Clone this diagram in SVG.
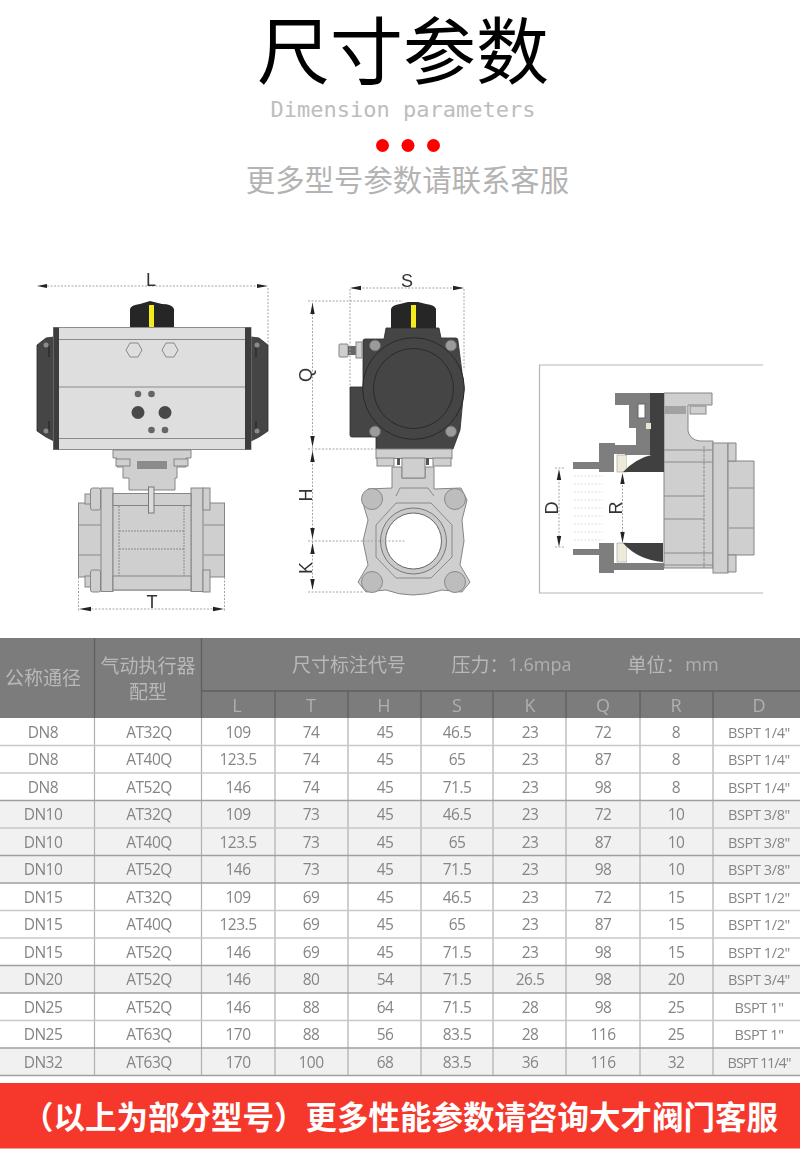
<svg xmlns="http://www.w3.org/2000/svg" width="800" height="1151" viewBox="0 0 800 1151">
<style>
text{font-family:"Liberation Sans","Noto Sans CJK SC",sans-serif}
.c{text-anchor:middle}
.t{font-family:"Open Sans","Noto Sans CJK SC",sans-serif;font-size:15.500px;fill:#858585;text-anchor:middle;letter-spacing:-.5px}
.b{font-size:14.500px;letter-spacing:-.4px}
.h{font-size:19px;fill:#b8b8b8;text-anchor:middle}
.s{font-family:"Open Sans",sans-serif;font-size:18px;fill:#b0b0b0;text-anchor:middle}
.d{font-size:18px;fill:#333;text-anchor:middle}
.dim{stroke:#a5a5a5;stroke-width:1;stroke-dasharray:2 1.5;fill:none}
.dk{fill:#454545;stroke:#2c2c2c;stroke-width:.8}
.kn{fill:#262626}
.ye{fill:#f4ea1e}
.al{fill:#dedede;stroke:#8c8c8c;stroke-width:1}
.bd{fill:#cfcfcf;stroke:#858585;stroke-width:1}
.mg{fill:#7e7e7e}
.ln{stroke:#8a8a8a;stroke-width:1;fill:none}
.ar{fill:#222}
.hl{stroke:#5f5f5f;stroke-width:1.3;fill:none}
.z{fill:#f1f1f1}
</style>
<defs>
<filter id="b" x="-5%" y="-5%" width="110%" height="110%"><feGaussianBlur stdDeviation=".5"/></filter>
<filter id="s" x="-2%" y="-2%" width="104%" height="104%"><feGaussianBlur stdDeviation=".35"/></filter>
</defs>
<rect width="800" height="1151" fill="#fff"/>
<g id="title">
<text class="c" x="403" y="78" font-size="73" font-weight="400" fill="#000">尺寸参数</text>
<text class="c" x="403" y="117" font-size="22" style="font-family:'DejaVu Sans Mono',monospace" fill="#bdbdbd">Dimension parameters</text>
<circle cx="382.500" cy="145.500" r="6.500" fill="#f00"/><circle cx="408" cy="145.500" r="6.500" fill="#f00"/><circle cx="433.500" cy="145.500" r="6.500" fill="#f00"/>
<text class="c" x="407.500" y="191" font-size="29.400" fill="#b3b3b3">更多型号参数请联系客服</text>
</g>
<g id="front-view" filter="url(#b)">
<path class="kn" d="M130 328V309Q131 305 140 304L150 301L162 304Q172 304 174 309V328Z"/>
<rect class="ye" x="149" y="305" width="5" height="23"/>
<path class="dk" d="M54 337L46 338L37 345V431L46 437L54 441ZM251 337L259 338L268 345V431L259 437L251 441Z"/>
<path d="M49 346V357M49 421V432M256 346V357M256 421V432" stroke="#222" fill="none"/>
<g fill="#8b8b8b"><circle cx="46" cy="345" r="2.500"/><circle cx="46" cy="431" r="2.500"/><circle cx="257" cy="345" r="2.500"/><circle cx="257" cy="431" r="2.500"/></g>
<rect class="al" x="53.500" y="327.500" width="197.500" height="122"/>
<rect x="53.500" y="327.500" width="5.500" height="122" fill="#3c3c3c"/><rect x="245" y="327.500" width="6" height="122" fill="#3c3c3c"/>
<path class="ln" d="M59 339.500H245M59 387H245M59 438.500H245"/>
<path class="ln" fill="#d6d6d6" d="M126 350L130 343H138L142 350L138 357H130ZM162 350L166 343H174L178 350L174 357H166Z"/>
<g fill="#666"><circle cx="138" cy="394" r="3.300"/><circle cx="151.500" cy="394" r="3.300"/><circle cx="151.500" cy="430" r="3.300"/><circle cx="165" cy="430" r="3.300"/></g>
<circle cx="138" cy="412.500" r="6.500" fill="#4a4a4a"/><circle cx="165" cy="412.500" r="6.500" fill="#4a4a4a"/>
<path class="bd" d="M113 450H191V458H186V467H177V478H175V490H129V478H123V467H117V458H113Z"/>
<rect x="137" y="461" width="30" height="8" fill="#8b8b8b"/>
<rect class="bd" x="116" y="459" width="14" height="7"/><rect class="bd" x="174" y="459" width="14" height="7"/>
<rect class="bd" x="78.500" y="503" width="146" height="74"/>
<path class="ln" d="M79 525H101M79 555H101M204 525H224M204 555H224"/>
<rect class="bd" x="101" y="488" width="12" height="103.500"/><rect class="bd" x="191" y="488" width="12" height="103.500"/>
<rect class="bd" x="113" y="494" width="78" height="96"/>
<path class="ln" stroke-dasharray="2 1" d="M119 506V576M184 506V576M119 531H184M119 549H184"/>
<rect class="bd" x="113" y="493.500" width="78" height="12"/><rect class="bd" x="113" y="576" width="78" height="14"/>
<rect x="148.500" y="487" width="5.500" height="26" fill="#dcdcdc" stroke="#777"/>
<rect class="bd" x="90.500" y="488" width="10" height="22" rx="2"/><rect class="bd" x="90.500" y="570" width="10" height="22" rx="2"/>
<rect class="bd" x="203" y="488" width="7" height="22"/><rect class="bd" x="203" y="570" width="7" height="22"/>
<rect class="bd" x="85" y="494" width="5.500" height="10"/><rect class="bd" x="85" y="576" width="5.500" height="11"/>
<path class="dim" d="M268 288V345M78.500 577V612M224.500 577V612M47 286H258M88 609H215"/>
<path class="ar" d="M37 286L47 284V288ZM268 286L257 284V288ZM79 609L91 606.800V611.200ZM224 609L213 606.800V611.200Z"/>
</g>
<g id="side-view" filter="url(#b)">
<path class="kn" d="M391 328V309Q392 305 400 304L408 302H418L426 304Q435 305 436 309V328Z"/>
<rect class="ye" x="411" y="305" width="5" height="23"/>
<path class="dk" d="M386 328H439L441 338H456Q458 338 458 341L464 388L460 430L453 449H376V437H352Q350 437 350 435V387H363V341Q363 339 365 339H384Z"/>
<circle cx="413.500" cy="388.500" r="50.800" fill="#454545" stroke="#2a2a2a"/><circle cx="413.500" cy="388.500" r="40" fill="#454545" stroke="#2a2a2a"/>
<g fill="#9b9b9b" stroke="#666"><circle cx="375" cy="345.500" r="5.500"/><circle cx="451" cy="345.500" r="5.500"/><circle cx="375" cy="431.500" r="5.500"/><circle cx="451" cy="431.500" r="5.500"/></g>
<rect class="bd" x="339" y="344" width="9" height="13" rx="1"/><rect x="348" y="346" width="8" height="9" fill="#666"/><rect class="bd" x="356" y="342" width="6" height="16"/>
<rect class="bd" x="376" y="449" width="76" height="9.500"/>
<rect class="bd" x="377" y="458" width="17" height="8"/><rect class="bd" x="433" y="458" width="18" height="8"/>
<path d="M397 458h3v7h-3zM426 458h3v7h-3z" fill="#555"/>
<path class="bd" d="M392 467H402V478H425V467H434V489L461 488L467 500L462 520L464 541L460 565L470 582L462 592L442 590Q412 600 386 590L366 592L358 582L368 565L363 541L368 520L362 500L368 489L392 488Z"/>
<rect class="bd" x="402" y="458" width="23" height="20"/>
<path class="ln" d="M396 496L400 488H428L434 496"/>
<g fill="#bdbdbd" stroke="#8a8a8a"><circle cx="372" cy="499" r="10.500"/><circle cx="455" cy="499" r="10.500"/><circle cx="372" cy="582" r="10.500"/><circle cx="455" cy="582" r="10.500"/></g>
<path class="ln" d="M376 525L396 503H431L452 525V557L431 578H396L376 557Z" fill="#c4c4c4"/>
<circle cx="413.500" cy="541" r="33" fill="#c9c9c9" stroke="#777"/><circle cx="413.500" cy="541" r="28" fill="#fff" stroke="#666"/>
<path class="dim" d="M350 289V387M464 289V370M308 301H403M308 449H376M308 541H405M308 592H364M352 288H462M312.500 303V590"/>
<path class="ar" d="M350 288L361 285.800V290.200ZM464 288L453 285.800V290.200ZM312.500 303L310.300 314H314.700ZM312.500 447L310.300 436H314.700ZM312.500 451L310.300 462H314.700ZM312.500 539L310.300 528H314.700ZM312.500 543L310.300 554H314.700ZM312.500 590L310.300 579H314.700Z"/>
</g>
<g id="section-view" filter="url(#b)">
<path d="M763 365H539.500V593H763" fill="none" stroke="#b5b5b5" stroke-width="1.200"/>
<path class="bd" d="M664 393H712V405H688V431Q690 440 700 441H713V568H664Z"/>
<rect class="bd" x="713" y="443" width="15" height="130"/>
<path class="bd" d="M728 461H754V555H728Z"/><path class="bd" d="M728 443h8v18h-8zM728 555h8v17h-8z"/>
<path class="ln" d="M664 496H704M664 519H704M729 488H754M729 528H754M664 450H713M664 462H713M664 553H713M664 565H713"/>
<path class="ln" stroke-dasharray="3 1" d="M704 446V568"/>
<rect x="664" y="406" width="22" height="8" fill="#a2a2a2"/><rect class="bd" x="690" y="406" width="16" height="8"/>
<path class="mg" d="M615 393H650V472H625V454H614V472H599V443H615V445H636V428H629V405H615Z"/>
<rect x="650" y="393" width="14" height="79" fill="#3f3f3f"/>
<rect x="646" y="423" width="5" height="6" fill="#e8e5d0"/><rect x="638" y="404" width="7" height="14" fill="#fff" stroke="#666"/>
<path class="mg" d="M599 543H614V563H664V570H614V573H599Z"/>
<path class="mg" d="M573 462H600V469H573ZM573 549H600V555H573Z"/>
<path d="M574 468.500H599M574 549.500H599" stroke="#777" stroke-dasharray="1.500 1.500" fill="none"/>
<rect x="617" y="455" width="10" height="17" fill="#eeeada" stroke="#888" stroke-width=".5"/>
<rect x="617" y="543" width="10" height="19" fill="#eeeada" stroke="#888" stroke-width=".5"/>
<path fill="#fff" d="M627 455H655Q638 458 627 470ZM627 547Q640 560 663 563H627Z"/>
<path fill="#3f3f3f" d="M623 472Q636 458 655 454L663 462V472ZM623 543H663V562Q638 560 623 543Z"/>
<path d="M574 476H603M574 484H603M574 492H603M574 500H603M574 508H603M574 516H603M574 524H603M574 532H603M574 540H603" stroke="#dcdcdc" stroke-dasharray="2 1.500" fill="none"/>
<path class="dim" d="M555 468H564M555 547H564M559 475V540M622.500 478V538"/>
<path class="ar" d="M559 469L556.800 480H561.200ZM559 547L556.800 536H561.200ZM622.500 473L620.300 484H624.700ZM622.500 543L620.300 532H624.700Z"/>
</g>
<g id="labels" filter="url(#s)">
<text class="d" x="151" y="286">L</text>
<text class="d" x="152" y="608">T</text>
<text class="d" x="407" y="287">S</text>
<text class="d" transform="translate(311.500 375) rotate(-90)">Q</text>
<text class="d" transform="translate(311.500 495) rotate(-90)">H</text>
<text class="d" transform="translate(311.500 568) rotate(-90)">K</text>
<text class="d" transform="translate(558 508) rotate(-90)">D</text>
<text class="d" transform="translate(622 508) rotate(-90)">R</text>
</g>
<g id="table" filter="url(#s)">
<rect x="0" y="638" width="800" height="80" fill="#7c7c7c"/>
<rect class="z" x="0" y="800.500" width="800" height="82.500"/>
<rect class="z" x="0" y="965.500" width="800" height="27.500"/>
<rect class="z" x="0" y="1048" width="800" height="27.500"/>
<path class="hl" d="M94.500 638V718M201.500 638V718M201.500 691H800M275 691V718M348 691V718M421 691V718M493 691V718M566 691V718M640 691V718M713 691V718"/>
<path d="M94.500 718V1075M201.500 718V1075M275 718V1075M348 718V1075M421 718V1075M493 718V1075M566 718V1075M640 718V1075M713 718V1075" stroke="#b0b0b0" stroke-width="1.200" fill="none"/>
<path d="M0 745.500H800M0 773H800M0 828H800M0 910.500H800M0 938H800M0 1020.500H800" stroke="#c8c8c8" stroke-width="1.300" fill="none"/>
<path d="M0 800.500H800M0 855.500H800M0 883H800M0 965.500H800M0 993H800M0 1048H800M0 1075.500H800" stroke="#a0a0a0" stroke-width="1.300" fill="none"/>
<text class="h" x="43" y="685">公称通径</text>
<text class="h" x="148" y="673">气动执行器</text>
<text class="h" x="148" y="699">配型</text>
<text class="h" x="349" y="672">尺寸标注代号</text>
<text class="h" x="480" y="672">压力：</text><text class="s" x="540" y="671">1.6mpa</text>
<text class="h" x="656" y="672">单位：</text><text class="s" x="702" y="671">mm</text>
<text class="s" x="237" y="712">L</text><text class="s" x="311" y="712">T</text><text class="s" x="384" y="712">H</text><text class="s" x="457" y="712">S</text><text class="s" x="530" y="712">K</text><text class="s" x="603" y="712">Q</text><text class="s" x="676" y="712">R</text><text class="s" x="759" y="712">D</text>
<g id="r1"><text class="t" x="43" y="737.500">DN8</text><text class="t" x="149" y="737.500">AT32Q</text><text class="t" x="238" y="737.500">109</text><text class="t" x="311" y="737.500">74</text><text class="t" x="385" y="737.500">45</text><text class="t" x="457" y="737.500">46.5</text><text class="t" x="530" y="737.500">23</text><text class="t" x="603" y="737.500">72</text><text class="t" x="676" y="737.500">8</text><text class="t b" x="759" y="737.500">BSPT 1/4"</text></g>
<g id="r2"><text class="t" x="43" y="765">DN8</text><text class="t" x="149" y="765">AT40Q</text><text class="t" x="238" y="765">123.5</text><text class="t" x="311" y="765">74</text><text class="t" x="385" y="765">45</text><text class="t" x="457" y="765">65</text><text class="t" x="530" y="765">23</text><text class="t" x="603" y="765">87</text><text class="t" x="676" y="765">8</text><text class="t b" x="759" y="765">BSPT 1/4"</text></g>
<g id="r3"><text class="t" x="43" y="792.500">DN8</text><text class="t" x="149" y="792.500">AT52Q</text><text class="t" x="238" y="792.500">146</text><text class="t" x="311" y="792.500">74</text><text class="t" x="385" y="792.500">45</text><text class="t" x="457" y="792.500">71.5</text><text class="t" x="530" y="792.500">23</text><text class="t" x="603" y="792.500">98</text><text class="t" x="676" y="792.500">8</text><text class="t b" x="759" y="792.500">BSPT 1/4"</text></g>
<g id="r4"><text class="t" x="43" y="820">DN10</text><text class="t" x="149" y="820">AT32Q</text><text class="t" x="238" y="820">109</text><text class="t" x="311" y="820">73</text><text class="t" x="385" y="820">45</text><text class="t" x="457" y="820">46.5</text><text class="t" x="530" y="820">23</text><text class="t" x="603" y="820">72</text><text class="t" x="676" y="820">10</text><text class="t b" x="759" y="820">BSPT 3/8"</text></g>
<g id="r5"><text class="t" x="43" y="847.500">DN10</text><text class="t" x="149" y="847.500">AT40Q</text><text class="t" x="238" y="847.500">123.5</text><text class="t" x="311" y="847.500">73</text><text class="t" x="385" y="847.500">45</text><text class="t" x="457" y="847.500">65</text><text class="t" x="530" y="847.500">23</text><text class="t" x="603" y="847.500">87</text><text class="t" x="676" y="847.500">10</text><text class="t b" x="759" y="847.500">BSPT 3/8"</text></g>
<g id="r6"><text class="t" x="43" y="875">DN10</text><text class="t" x="149" y="875">AT52Q</text><text class="t" x="238" y="875">146</text><text class="t" x="311" y="875">73</text><text class="t" x="385" y="875">45</text><text class="t" x="457" y="875">71.5</text><text class="t" x="530" y="875">23</text><text class="t" x="603" y="875">98</text><text class="t" x="676" y="875">10</text><text class="t b" x="759" y="875">BSPT 3/8"</text></g>
<g id="r7"><text class="t" x="43" y="902.500">DN15</text><text class="t" x="149" y="902.500">AT32Q</text><text class="t" x="238" y="902.500">109</text><text class="t" x="311" y="902.500">69</text><text class="t" x="385" y="902.500">45</text><text class="t" x="457" y="902.500">46.5</text><text class="t" x="530" y="902.500">23</text><text class="t" x="603" y="902.500">72</text><text class="t" x="676" y="902.500">15</text><text class="t b" x="759" y="902.500">BSPT 1/2"</text></g>
<g id="r8"><text class="t" x="43" y="930">DN15</text><text class="t" x="149" y="930">AT40Q</text><text class="t" x="238" y="930">123.5</text><text class="t" x="311" y="930">69</text><text class="t" x="385" y="930">45</text><text class="t" x="457" y="930">65</text><text class="t" x="530" y="930">23</text><text class="t" x="603" y="930">87</text><text class="t" x="676" y="930">15</text><text class="t b" x="759" y="930">BSPT 1/2"</text></g>
<g id="r9"><text class="t" x="43" y="957.500">DN15</text><text class="t" x="149" y="957.500">AT52Q</text><text class="t" x="238" y="957.500">146</text><text class="t" x="311" y="957.500">69</text><text class="t" x="385" y="957.500">45</text><text class="t" x="457" y="957.500">71.5</text><text class="t" x="530" y="957.500">23</text><text class="t" x="603" y="957.500">98</text><text class="t" x="676" y="957.500">15</text><text class="t b" x="759" y="957.500">BSPT 1/2"</text></g>
<g id="r10"><text class="t" x="43" y="985">DN20</text><text class="t" x="149" y="985">AT52Q</text><text class="t" x="238" y="985">146</text><text class="t" x="311" y="985">80</text><text class="t" x="385" y="985">54</text><text class="t" x="457" y="985">71.5</text><text class="t" x="530" y="985">26.5</text><text class="t" x="603" y="985">98</text><text class="t" x="676" y="985">20</text><text class="t b" x="759" y="985">BSPT 3/4"</text></g>
<g id="r11"><text class="t" x="43" y="1012.500">DN25</text><text class="t" x="149" y="1012.500">AT52Q</text><text class="t" x="238" y="1012.500">146</text><text class="t" x="311" y="1012.500">88</text><text class="t" x="385" y="1012.500">64</text><text class="t" x="457" y="1012.500">71.5</text><text class="t" x="530" y="1012.500">28</text><text class="t" x="603" y="1012.500">98</text><text class="t" x="676" y="1012.500">25</text><text class="t b" x="759" y="1012.500">BSPT 1"</text></g>
<g id="r12"><text class="t" x="43" y="1040">DN25</text><text class="t" x="149" y="1040">AT63Q</text><text class="t" x="238" y="1040">170</text><text class="t" x="311" y="1040">88</text><text class="t" x="385" y="1040">56</text><text class="t" x="457" y="1040">83.5</text><text class="t" x="530" y="1040">28</text><text class="t" x="603" y="1040">116</text><text class="t" x="676" y="1040">25</text><text class="t b" x="759" y="1040">BSPT 1"</text></g>
<g id="r13"><text class="t" x="43" y="1067.500">DN32</text><text class="t" x="149" y="1067.500">AT63Q</text><text class="t" x="238" y="1067.500">170</text><text class="t" x="311" y="1067.500">100</text><text class="t" x="385" y="1067.500">68</text><text class="t" x="457" y="1067.500">83.5</text><text class="t" x="530" y="1067.500">36</text><text class="t" x="603" y="1067.500">116</text><text class="t" x="676" y="1067.500">32</text><text class="t b" x="759" y="1067.500" style="letter-spacing:-1.100px">BSPT 11/4"</text></g>
</g>
<g id="banner">
<rect x="0" y="1083" width="800" height="65.500" fill="#f5372c"/>
<text class="c" x="400" y="1129" font-size="31.500" font-weight="700" fill="#fff">（以上为部分型号）更多性能参数请咨询大才阀门客服</text>
</g>
</svg>
